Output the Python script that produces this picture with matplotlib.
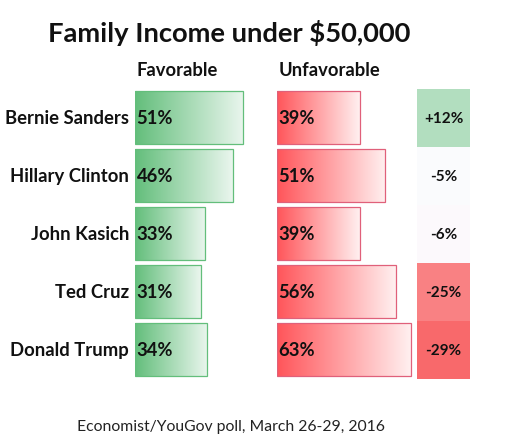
import numpy as np
import matplotlib
matplotlib.use("Agg")
import matplotlib.pyplot as plt
from matplotlib.colors import LinearSegmentedColormap, TwoSlopeNorm, to_rgb
from matplotlib.patches import Rectangle

candidates = ["Bernie Sanders", "Hillary Clinton", "John Kasich", "Ted Cruz", "Donald Trump"]
favorable = [51, 46, 33, 31, 34]
unfavorable = [39, 51, 39, 56, 63]
net = [12, -5, -6, -25, -29]

title = "Family Income under $50,000"
source = "Economist/YouGov poll, March 26-29, 2016"

FONT = "Lato"
W, H = 508, 443
PX_PER_PCT = 2.125
ROW_PX = 58
TOP_PX = 88.7
BAR_H = 53 / 58


def fig_rect(left_px, width_px):
    n = len(candidates)
    bottom = 1 - (TOP_PX + n * ROW_PX) / H
    return [left_px / W, bottom, width_px / W, n * ROW_PX / H]


def gradient_bars(ax, values, c_left, c_right, edge):
    grad = np.linspace(0, 1, 256)
    c0 = np.array(to_rgb(c_left))
    c1 = np.array(to_rgb(c_right))
    img = (c0[None, :] * (1 - grad[:, None]) + c1[None, :] * grad[:, None])[None, :, :]
    for i, v in enumerate(values):
        y0, y1 = i - BAR_H / 2, i + BAR_H / 2
        ax.imshow(img, extent=(0, v, y1, y0), aspect="auto", interpolation="bilinear", zorder=1)
        ax.add_patch(Rectangle((0, y0), v, BAR_H, fill=False, edgecolor=edge, lw=0.9, zorder=2))
        ax.text(0.7, i + 0.02, f"{v}%", ha="left", va="center", fontsize=13.2,
                fontweight="bold", family=FONT, color="#111111", zorder=3)


def setup(ax, xmax):
    ax.set_xlim(0, xmax)
    ax.set_ylim(len(candidates) - 0.5, -0.5)
    ax.axis("off")


fig = plt.figure(figsize=(W / 100, H / 100), dpi=100)

ax_fav = fig.add_axes(fig_rect(135, 70 * PX_PER_PCT))
ax_unf = fig.add_axes(fig_rect(277, 70 * PX_PER_PCT))
ax_net = fig.add_axes(fig_rect(417, 53))
for a, xm in ((ax_fav, 70), (ax_unf, 70), (ax_net, 1)):
    setup(a, xm)

gradient_bars(ax_fav, favorable, "#63BE7B", "#eaf6ee", "#63BE7B")
gradient_bars(ax_unf, unfavorable, "#FF555A", "#fff0f0", "#e0607a")

for i, name in enumerate(candidates):
    ax_fav.text(-2.8, i + 0.02, name, ha="right", va="center", fontsize=13.3,
                fontweight="bold", family=FONT, color="#111111")

cmap = LinearSegmentedColormap.from_list("net", ["#F8696B", "#FCFCFF", "#63BE7B"])
norm = TwoSlopeNorm(vmin=-29, vcenter=-5.5, vmax=31)
for i, v in enumerate(net):
    ax_net.add_patch(Rectangle((0, i - 0.5), 1, 1, facecolor=cmap(norm(v)), edgecolor="none"))
    label = f"+{v}%" if v > 0 else f"{v}%"
    ax_net.text(0.5, i + 0.02, label, ha="center", va="center", fontsize=11,
                fontweight="bold", family=FONT, color="#111111")

fig.text(229 / W, 1 - 33 / H, title, ha="center", va="center", fontsize=19.7,
         fontweight="bold", family=FONT, color="#111111")
fig.text(137 / W, 1 - 70 / H, "Favorable", ha="left", va="center", fontsize=13.2,
         fontweight="bold", family=FONT, color="#111111")
fig.text(279 / W, 1 - 70 / H, "Unfavorable", ha="left", va="center", fontsize=13.2,
         fontweight="bold", family=FONT, color="#111111")
fig.text(77 / W, 1 - 427 / H, source, ha="left", va="center", fontsize=11.3,
         family=FONT, color="#222222")

fig.savefig("out.png", dpi=100)
plt.close(fig)
